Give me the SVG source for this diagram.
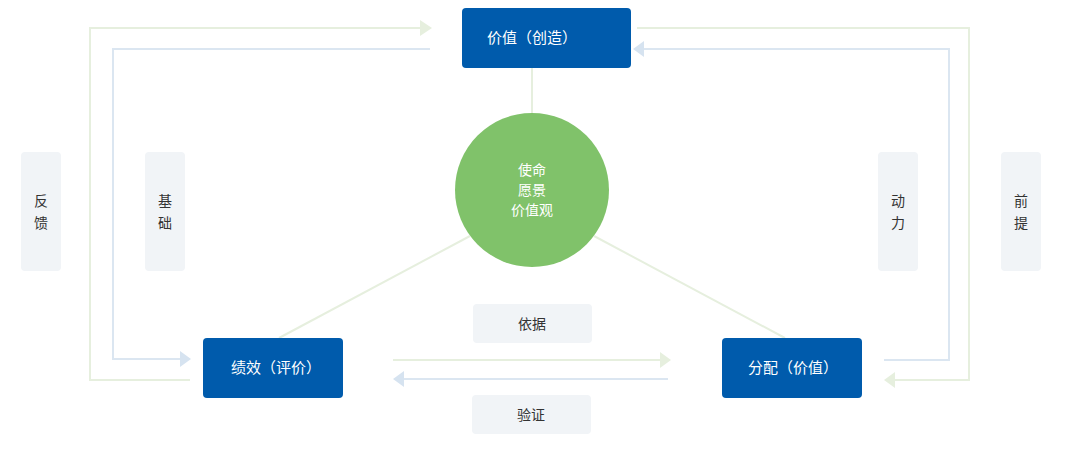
<svg xmlns="http://www.w3.org/2000/svg" width="1065" height="449" viewBox="0 0 1065 449">
<defs>
<style>
.g{fill:none;stroke:#e6efde;stroke-width:2}
.b{fill:none;stroke:#dbe6f1;stroke-width:2}
.ga{fill:#e6efde}
.ba{fill:#d6e3f0}
.node rect{fill:#005bac}
.node text{fill:#fff;font-family:"Noto Sans CJK SC",sans-serif;font-size:15px;text-anchor:middle}
.lab rect{fill:#f1f4f7}
.lab text{fill:#333;font-family:"Noto Sans CJK SC",sans-serif;font-size:14px;text-anchor:middle}
.c text{fill:#fff;font-family:"Noto Sans CJK SC",sans-serif;font-size:14px;text-anchor:middle}
</style>
</defs>
<rect width="1065" height="449" fill="#fff"/>
<g id="connectors">
<line class="g" x1="532" y1="67" x2="532" y2="115"/>
<line class="g" x1="470" y1="236" x2="279" y2="338"/>
<line class="g" x1="594" y1="236" x2="785" y2="338"/>
<polyline class="g" points="190,380 90,380 90,28 420,28"/>
<polygon class="ga" points="420,20 432,28 420,36"/>
<polyline class="b" points="430,49 113,49 113,359 180,359"/>
<polygon class="ba" points="180,351 191,359 180,367"/>
<polyline class="g" points="637,28 969,28 969,380 895,380"/>
<polygon class="ga" points="895,372 884,380 895,388"/>
<polyline class="b" points="884,360 949,360 949,49 644,49"/>
<polygon class="ba" points="644,41 633,49 644,57"/>
<line class="g" x1="393" y1="360" x2="660" y2="360"/>
<polygon class="ga" points="660,352 671,360 660,368"/>
<line class="b" x1="668" y1="379" x2="403" y2="379"/>
<polygon class="ba" points="404,371 393,379 404,387"/>
</g>
<g id="n-create" class="node"><rect x="462" y="8" width="169" height="60" rx="4"/><text x="532" y="43">价值（创造）</text></g>
<g id="n-perf" class="node"><rect x="203" y="338" width="140" height="60" rx="4"/><text x="276" y="373">绩效（评价）</text></g>
<g id="n-dist" class="node"><rect x="722" y="338" width="140" height="60" rx="4"/><text x="793" y="373">分配（价值）</text></g>
<g id="n-core" class="c"><circle cx="532" cy="190" r="77" fill="#80c26a"/><text x="532" y="175">使命</text><text x="532" y="195">愿景</text><text x="532" y="215">价值观</text></g>
<g id="l-fankui" class="lab"><rect x="21" y="152" width="40" height="119" rx="4"/><text x="41" y="206">反</text><text x="41" y="228">馈</text></g>
<g id="l-jichu" class="lab"><rect x="145" y="152" width="40" height="119" rx="4"/><text x="165" y="206">基</text><text x="165" y="228">础</text></g>
<g id="l-dongli" class="lab"><rect x="878" y="152" width="40" height="119" rx="4"/><text x="898" y="206">动</text><text x="898" y="228">力</text></g>
<g id="l-qianti" class="lab"><rect x="1001" y="152" width="40" height="119" rx="4"/><text x="1021" y="206">前</text><text x="1021" y="228">提</text></g>
<g id="l-yiju" class="lab"><rect x="473" y="304" width="119" height="39" rx="4"/><text x="532" y="329">依据</text></g>
<g id="l-yanzheng" class="lab"><rect x="472" y="395" width="119" height="39" rx="4"/><text x="531" y="420">验证</text></g>
</svg>
